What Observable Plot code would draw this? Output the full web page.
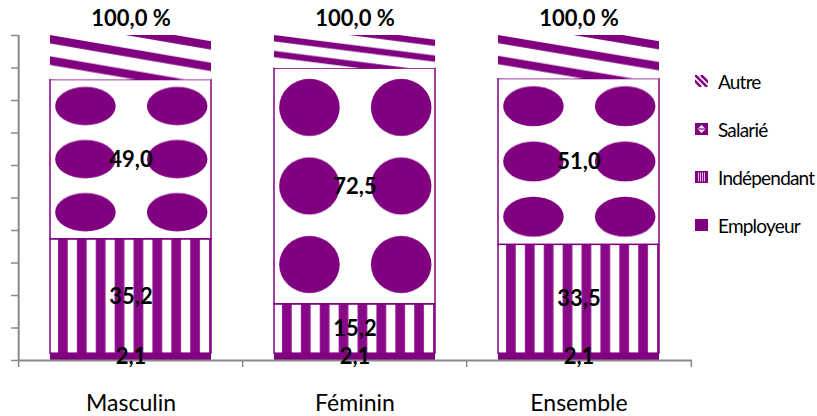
<!DOCTYPE html>
<html>
<head>
<meta charset="utf-8">
<script src="https://cdn.jsdelivr.net/npm/d3@7"></script>
<script src="https://cdn.jsdelivr.net/npm/@observablehq/plot@0.6"></script>
<style>
  html, body { margin: 0; padding: 0; background: #fff; }
  #wrap { position: relative; width: 817px; height: 416px; font-family: Lato, "Open Sans", sans-serif; }
  #legend { position: absolute; left: 695px; top: 57px; display: flex; flex-direction: column; }
  .item { height: 48px; display: flex; align-items: center; white-space: nowrap; font-size: 19px; letter-spacing: -0.8px; color: #000; }
  .item svg { margin-right: 10px; flex: none; }
</style>
</head>
<body>
<svg width="0" height="0" style="position:absolute">
  <defs>
    <pattern id="pat-autre" patternUnits="objectBoundingBox" patternContentUnits="objectBoundingBox" x="0" y="0" width="1" height="1">
      <rect x="0" y="0" width="1" height="1" fill="#fff"/>
      <polygon points="0,-0.96 1,-0.34 1,-0.15 0,-0.77" fill="#800080"/>
      <polygon points="0,-0.48 1,0.14 1,0.33 0,-0.29" fill="#800080"/>
      <polygon points="0,0 1,0.62 1,0.81 0,0.19" fill="#800080"/>
      <polygon points="0,0.48 1,1.10 1,1.29 0,0.67" fill="#800080"/>
    </pattern>
    <pattern id="pat-salarie" patternUnits="objectBoundingBox" patternContentUnits="objectBoundingBox" x="0" y="0" width="1" height="0.33334">
      <rect x="0" y="0" width="1" height="0.33334" fill="#fff"/>
      <ellipse cx="0.22" cy="0.1667" rx="0.188" ry="0.121" fill="#800080"/>
      <ellipse cx="0.79" cy="0.1667" rx="0.188" ry="0.121" fill="#800080"/>
    </pattern>
    <pattern id="pat-indep" patternUnits="objectBoundingBox" patternContentUnits="objectBoundingBox" x="0" y="0" width="0.1173" height="1">
      <rect x="0" y="0" width="0.1173" height="1" fill="#fff"/>
      <rect x="0.05" y="0" width="0.06" height="1" fill="#880888"/>
    </pattern>
  </defs>
</svg>
<div id="wrap">
  <div id="legend"></div>
</div>
<script>
// ---- Data ----
const categories = ["Masculin", "Féminin", "Ensemble"];
const seriesNames = ["Employeur", "Indépendant", "Salarié", "Autre"];
const employeur = [2.1, 2.1, 2.1];
const independant = [35.2, 15.2, 33.5];
const salarie = [49.0, 72.5, 51.0];
const autre = [13.7, 10.2, 13.4];
const totals = [100.0, 100.0, 100.0];
const yTicks = [0, 10, 20, 30, 40, 50, 60, 70, 80, 90, 100];
const legendOrder = ["Autre", "Salarié", "Indépendant", "Employeur"];

const valuesBySeries = [employeur, independant, salarie, autre];
const rows = [];
seriesNames.forEach((s, si) => categories.forEach((c, ci) =>
  rows.push({category: c, series: s, value: valuesBySeries[si][ci]})));

const fillOf = {"Employeur": "#800080", "Indépendant": "url(#pat-indep)", "Salarié": "url(#pat-salarie)", "Autre": "url(#pat-autre)"};
const strokeOf = {"Employeur": "none", "Indépendant": "#800080", "Salarié": "#800080", "Autre": "none"};
const fmt = v => d3.format(".1f")(v).replace(".", ",");

const W = 817, H = 416, mL = 18, mR = 125, mT = 35, mB = 56;
const step = (W - mL - mR) / categories.length;
const gray = "#898989";
const tickLen = 7 * 100 / (H - mT - mB);

const chart = Plot.plot({
  width: W, height: H,
  marginLeft: mL, marginRight: mR, marginTop: mT, marginBottom: mB,
  x: {domain: categories, paddingInner: 0.28, paddingOuter: 0.14, label: null},
  y: {domain: [0, 100], label: null},
  color: {type: "identity"},
  style: {fontFamily: "Lato, 'Open Sans', sans-serif", background: "white", overflow: "visible"},
  marks: [
    Plot.barY(rows, Plot.stackY({
      x: "category", y: "value", z: "series",
      fill: d => fillOf[d.series], stroke: d => strokeOf[d.series], strokeWidth: 1.5
    })),
    Plot.axisY(yTicks, {tickSize: 7, tickFormat: () => "", stroke: gray, strokeWidth: 1.5, label: null}),
    Plot.ruleX([categories[0]], {x: d => d, dx: -step / 2, y1: 0, y2: 100, stroke: gray, strokeWidth: 2}),
    Plot.ruleY([0], {stroke: gray, strokeWidth: 2}),
    Plot.ruleX(categories, {x: d => d, dx: -step / 2, y1: 0, y2: -tickLen, stroke: gray, strokeWidth: 1.5}),
    Plot.ruleX([categories[categories.length - 1]], {x: d => d, dx: step / 2, y1: 0, y2: -tickLen, stroke: gray, strokeWidth: 1.5}),
    Plot.axisX({tickSize: 0, tickPadding: 34, fontSize: 23, fill: "black", label: null}),
    Plot.text(rows, Plot.stackY({
      x: "category", y: "value", z: "series",
      filter: d => d.series !== "Autre",
      text: d => fmt(d.value), fontSize: 22, fontWeight: "bold", fill: "black"
    })),
    Plot.text(categories, {
      x: d => d, y: (d, i) => totals[i], text: (d, i) => fmt(totals[i]) + " %",
      dy: -17, fontSize: 22, fontWeight: "bold", fill: "black"
    })
  ]
});
document.getElementById("wrap").prepend(chart);

// ---- Legend ----
const swatch = {
  "Autre": `<svg width="13" height="12"><defs><clipPath id="cA"><rect width="13" height="12"/></clipPath></defs>
    <g clip-path="url(#cA)" stroke="#800080" stroke-width="2.6">
      <line x1="-6" y1="0" x2="6" y2="12"/><line x1="0" y1="0" x2="12" y2="12"/><line x1="6" y1="0" x2="18" y2="12"/></g></svg>`,
  "Salarié": `<svg width="13" height="12"><rect width="13" height="12" fill="#800080"/>
    <polygon points="3.5,5 9.5,5 6.5,2" fill="#fff"/><polygon points="3.5,7 9.5,7 6.5,10" fill="#fff"/>
    <rect x="2.5" y="5.6" width="8" height="0.8" fill="#fff"/></svg>`,
  "Indépendant": `<svg width="13" height="12"><rect width="13" height="12" fill="#800080"/>
    <g fill="#e3b8e3"><rect x="3" y="1.5" width="1" height="9"/><rect x="5" y="1.5" width="1" height="9"/><rect x="7" y="1.5" width="1" height="9"/><rect x="9" y="1.5" width="1" height="9"/></g></svg>`,
  "Employeur": `<svg width="13" height="12"><rect width="13" height="12" fill="#800080"/></svg>`
};
const legend = document.getElementById("legend");
legendOrder.forEach(name => {
  const div = document.createElement("div");
  div.className = "item";
  div.innerHTML = swatch[name] + `<span>${name}</span>`;
  legend.appendChild(div);
});
</script>
</body>
</html>
